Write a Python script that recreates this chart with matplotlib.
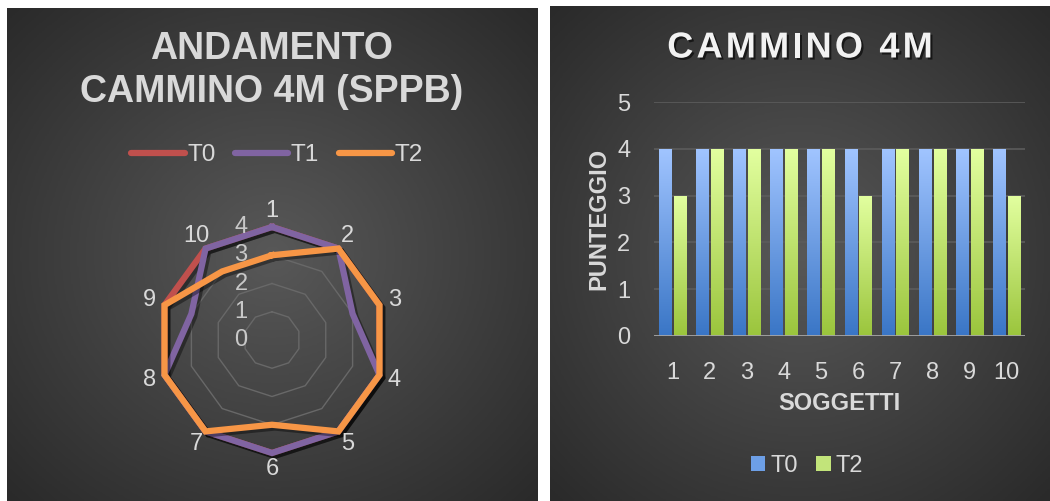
import numpy as np
import matplotlib
matplotlib.use("Agg")
import matplotlib.pyplot as plt
import matplotlib.patheffects as pe
from matplotlib.colors import LinearSegmentedColormap
from matplotlib.lines import Line2D
from matplotlib.patches import Patch
from matplotlib.transforms import offset_copy
from matplotlib.textpath import text_to_path
from matplotlib.font_manager import FontProperties

plt.rcParams["font.family"] = ["Liberation Sans", "DejaVu Sans"]

# dati: punteggio cammino 4m (SPPB) per soggetto
soggetti = ["1", "2", "3", "4", "5", "6", "7", "8", "9", "10"]
t0 = [4, 4, 4, 4, 4, 4, 4, 4, 4, 4]
t1 = [4, 4, 3, 4, 4, 4, 4, 4, 3, 4]
t2 = [3, 4, 4, 4, 4, 3, 4, 4, 4, 3]
radar_ticks = [0, 1, 2, 3, 4]
bar_ticks = [0, 1, 2, 3, 4, 5]

W, H = 1050, 501
TXT = "#d9d9d9"
fig = plt.figure(figsize=(W / 100, H / 100), dpi=100)
fig.patch.set_facecolor("white")


def px_rect(x0, y0, x1, y1):
    # rettangolo in pixel (origine in alto a sinistra) -> coordinate figura
    return [x0 / W, 1 - y1 / H, (x1 - x0) / W, (y1 - y0) / H]


def panel_bg(rect):
    ax = fig.add_axes(px_rect(*rect), zorder=-10)
    ny, nx = 200, 200
    yy, xx = np.mgrid[-1:1:ny * 1j, -1:1:nx * 1j]
    d = np.clip(np.sqrt(xx ** 2 + yy ** 2) / np.sqrt(2), 0, 1)
    cmap = LinearSegmentedColormap.from_list("bg", ["#585858", "#2a2a2a"])
    ax.imshow(d, cmap=cmap, aspect="auto", vmin=0, vmax=1)
    ax.axis("off")


panel_bg((7, 8, 538, 501))
panel_bg((550, 6, 1050, 501))

# ---------------- radar ----------------
colors = {"T0": "#c0504d", "T1": "#8064a2", "T2": "#f79646"}
cx, cy, R = 272, 340, 113
rax = fig.add_axes(px_rect(cx - R, cy - R, cx + R, cy + R), projection="polar")
rax.set_theta_zero_location("N")
rax.set_theta_direction(-1)
rax.set_ylim(0, 4)
rax.patch.set_alpha(0)
rax.spines["polar"].set_visible(False)
rax.grid(False)
rax.set_xticks([])
rax.set_yticks([])

n = len(soggetti)
theta = np.linspace(0, 2 * np.pi, n, endpoint=False)
theta_c = np.append(theta, theta[0])

for lev in radar_ticks[1:]:
    rax.plot(theta_c, [lev] * (n + 1), color="#686868", lw=1, zorder=1)

shadow = [pe.SimpleLineShadow(offset=(2, -2), shadow_color="black", alpha=0.4),
          pe.Normal()]
for name, vals in [("T0", t0), ("T1", t1), ("T2", t2)]:
    v = np.append(vals, vals[0])
    rax.plot(theta_c, v, color=colors[name], lw=4.5, solid_joinstyle="miter",
             path_effects=shadow, zorder=3, clip_on=False)

for th, lab in zip(theta, soggetti):
    rax.text(th, 4.55, lab, color=TXT, fontsize=17, ha="center", va="center",
             clip_on=False)

tick_tr = offset_copy(rax.transData, fig=fig, x=-31, y=0, units="dots")
for t in radar_ticks:
    rax.text(0, t, str(t), transform=tick_tr, color="#c8c8c8", fontsize=17,
             ha="center", va="center", zorder=4, clip_on=False)

fig.text(272 / W, 1 - 49 / H, "ANDAMENTO", color=TXT, fontsize=27,
         fontweight="bold", ha="center", va="center")
fig.text(272 / W, 1 - 92 / H, "CAMMINO 4M (SPPB)", color=TXT, fontsize=27,
         fontweight="bold", ha="center", va="center")

leg_handles = [Line2D([], [], color=colors[k], lw=4.5, solid_capstyle="round")
               for k in ["T0", "T1", "T2"]]
leg = fig.legend(leg_handles, ["T0", "T1", "T2"], loc="center",
                 bbox_to_anchor=(277 / W, 1 - 155 / H), ncol=3, frameon=False,
                 fontsize=17.5, handlelength=2.2, handletextpad=0.1,
                 columnspacing=0.8, labelcolor=TXT)

# ---------------- barre ----------------
bax = fig.add_axes(px_rect(654, 102.3, 1025, 335.7))
bax.patch.set_alpha(0)
x = np.arange(1, n + 1)
bw, off = 0.33, 0.2
blue = LinearSegmentedColormap.from_list("b", ["#3a76c6", "#a0c4ff"])
green = LinearSegmentedColormap.from_list("g", ["#9bc53d", "#e2ff9f"])
grad = np.linspace(0, 1, 100).reshape(-1, 1)
for xs, vals, cm in [(x - off, t0, blue), (x + off, t2, green)]:
    bars = bax.bar(xs, vals, width=bw, color="none", edgecolor="none", zorder=2)
    for b in bars:
        im = bax.imshow(grad, cmap=cm, origin="lower", aspect="auto",
                        extent=[b.get_x(), b.get_x() + b.get_width(), 0, b.get_height()],
                        zorder=2)
        im.set_clip_path(b)

bax.set_xlim(0.5, n + 0.5)
bax.set_ylim(0, 5)
bax.set_yticks(bar_ticks)
bax.set_xticks(x)
bax.set_xticklabels(soggetti)
for s in bax.spines.values():
    s.set_visible(False)
bax.tick_params(length=0, colors=TXT, labelsize=17)
bax.tick_params(axis="x", pad=19)
bax.tick_params(axis="y", pad=17)
for t in bar_ticks[1:]:
    bax.axhline(t, color="#5c5c5c", lw=1.2, zorder=1)
bax.axhline(0, color="#a6a6a6", lw=2, zorder=3)
bax.set_xlabel("SOGGETTI", color=TXT, fontsize=17, fontweight="bold", labelpad=6)
bax.set_ylabel("PUNTEGGIO", color=TXT, fontsize=17, fontweight="bold", labelpad=5)

# titolo spaziato carattere per carattere
title = "CAMMINO 4M"
fp = FontProperties(family="Liberation Sans", weight="bold", size=26)
adv = [text_to_path.get_text_width_height_descent(c, fp, ismath=False)[0] * 100 / 72
       for c in title]
spacing = 3.2
total = sum(adv) + spacing * (len(title) - 1)
xpos = 800 - total / 2
title_fx = [pe.withSimplePatchShadow(offset=(1.5, -1.5), shadow_rgbFace="black",
                                      alpha=0.6)]
for c, a in zip(title, adv):
    fig.text(xpos / W, 1 - 48 / H, c, color="#f2f2f2", fontproperties=fp,
             ha="left", va="center", path_effects=title_fx)
    xpos += a + spacing

bar_handles = [Patch(facecolor="#6d9fe6"), Patch(facecolor="#c2e47a")]
fig.legend(bar_handles, ["T0", "T2"], loc="center",
           bbox_to_anchor=(807 / W, 1 - 466 / H), ncol=2, frameon=False,
           fontsize=17, handlelength=0.6, handleheight=0.6, handletextpad=0.2,
           columnspacing=0.8, labelcolor=TXT)

fig.savefig("out.png", dpi=100)
